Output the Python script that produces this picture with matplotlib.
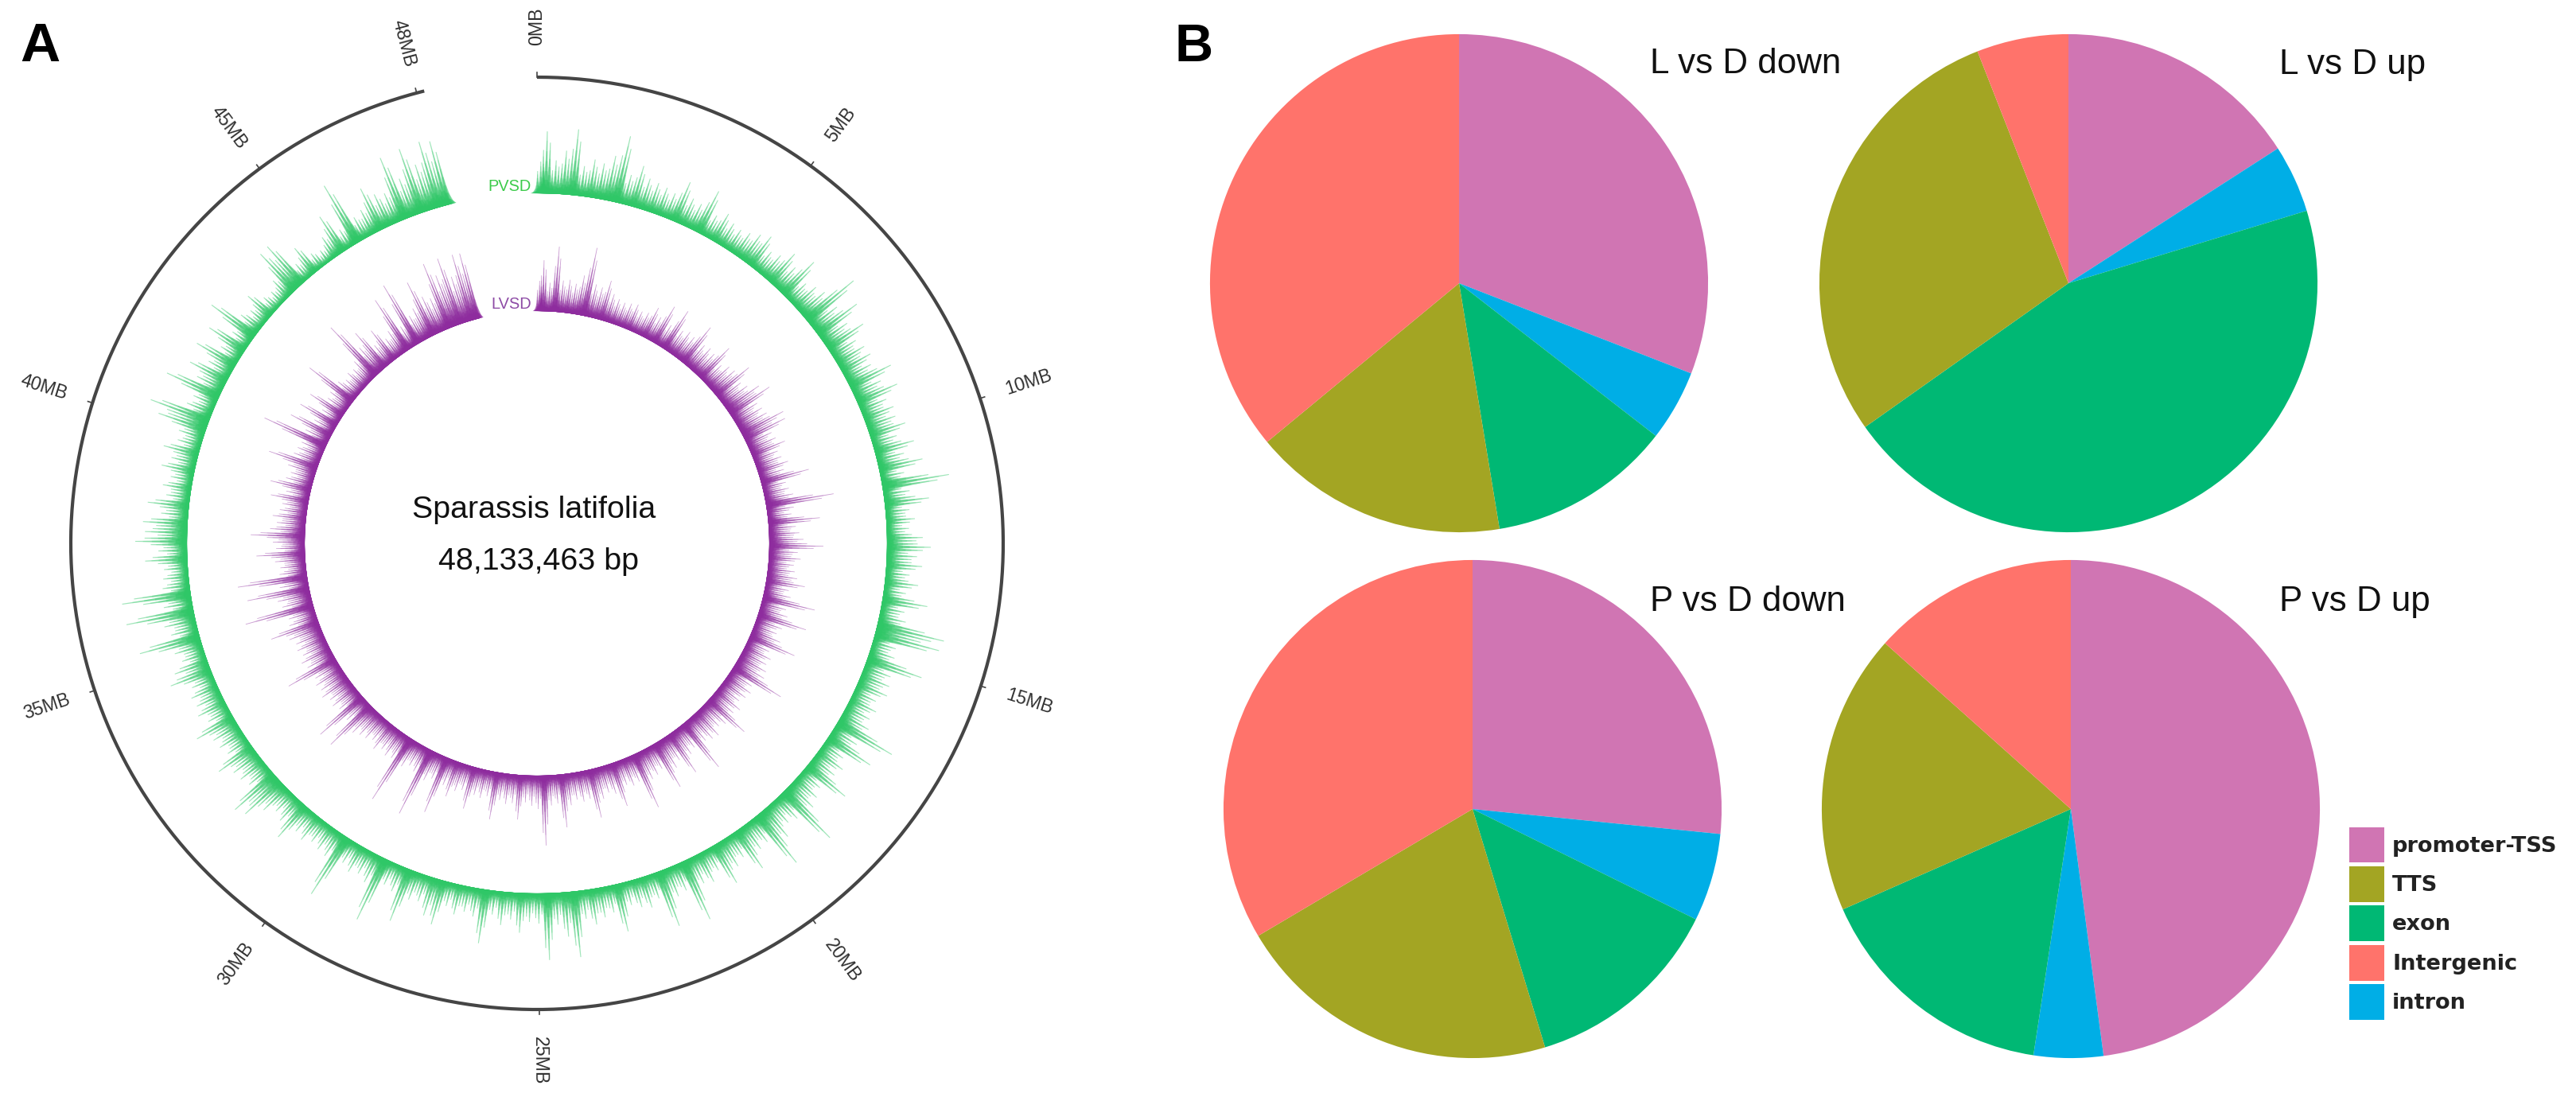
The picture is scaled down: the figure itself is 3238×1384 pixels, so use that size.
import numpy as np
import matplotlib
matplotlib.use("Agg")
import matplotlib.pyplot as plt
from matplotlib.collections import PolyCollection
from matplotlib.patches import Patch

plt.rcParams['font.family'] = ['Liberation Sans', 'DejaVu Sans']

W, H, DPI = 3238, 1384, 200

# ---- panel A data: peak height per 0.2 Mb window (in ring pixels)
GENOME_MB = 48.133
BIN_MB = 0.2
tick_mb = [0, 5, 10, 15, 20, 25, 30, 35, 40, 45, 48]
pvsd = [
 40,78,42,55,83,38,48,45,57,85, 38,53,40,38,36,33,53,36,34,58,
 30,39,32,30,33,39,45,30,34,47, 35,56,30,36,40,77,40,62,38,54,
 35,40,42,36,58,38,55,35,40,38, 47,32,51,35,56,30,85,33,56,30,
 36,28,45,55,38,45,30,42,28,57, 30,34,86,83,30,32,72,35,38,40,
 30,36,33,38,79,35,63,30,38,34, 61,30,35,40,82,36,32,45,77,34,
 36,57,32,38,55,30,40,36,80,35, 38,73,32,40,36,30,61,34,38,45,
 36,83,56,40,84,38,36,50,34,42, 30,68,36,32,38,30,57,49,34,36,
 69,34,30,84,38,32,36,30,84,35, 33,30,36,32,52,35,30,40,60,66,
 32,36,38,52,30,34,36,53,30,38, 34,36,30,54,44,30,36,78,34,40,
 86,36,87,34,32,30,53,36,65,53, 56,34,52,30,36,28,42,32,45,30,
 32,63,78,34,30,72,36,52,32,56, 28,53,26,67,30,24,38,22,20,28,
 63,64,24,40,22,18,30,53,26,83, 30,34,58,44,40,83,50,85,60,86,83]
lvsd = [
 38,64,36,82,40,42,38,50,87,42, 40,51,36,32,30,32,34,28,30,41,
 32,52,30,56,32,36,34,56,34,36, 34,52,30,36,38,54,34,38,50,60,
 36,38,40,59,57,34,36,45,32,34, 40,32,62,30,32,36,86,34,30,65,
 34,38,43,68,36,40,32,34,38,49, 30,34,67,32,36,63,34,30,38,61,
 30,36,34,38,40,70,32,36,34,30, 38,34,60,36,32,40,38,34,70,32,
 36,58,34,40,63,32,36,38,73,34, 36,32,57,38,34,40,62,36,38,34,
 40,67,36,38,88,42,38,34,56,36, 38,34,60,32,36,34,54,32,36,46,
 34,74,32,38,89,34,30,36,90,34, 36,32,38,30,34,36,40,70,34,71,
 32,36,34,40,36,38,34,68,36,40, 34,38,36,42,63,36,34,88,38,42,
 79,36,88,34,32,38,61,36,40,68, 44,36,42,34,32,48,30,52,34,30,
 36,64,34,32,30,85,32,57,28,53, 26,49,28,30,69,30,24,28,26,32,
 83,40,57,30,47,28,34,75,30,85, 36,42,74,50,44,87,68,87,60,86,85]

# ---- panel B data: percent share of each genomic feature
features = ['promoter-TSS', 'intron', 'exon', 'TTS', 'Intergenic']
l_down = [30.9, 4.6, 11.9, 16.6, 36.0]
l_up   = [15.9, 4.4, 44.9, 28.85, 5.95]
p_down = [26.6, 5.7, 13.0, 21.2, 33.5]
p_up   = [47.9, 4.5, 16.0, 18.2, 13.4]
titles = ['L vs D down', 'L vs D up', 'P vs D down', 'P vs D up']
legend_order = ['promoter-TSS', 'TTS', 'exon', 'Intergenic', 'intron']
feature_colors = {'promoter-TSS': '#D075B3', 'TTS': '#A3A523', 'exon': '#00B874',
                  'Intergenic': '#FF736B', 'intron': '#00AEE6'}

fig = plt.figure(figsize=(W / DPI, H / DPI), dpi=DPI, facecolor='white')

def box(cx, cy, rx, ry):
    return [(cx - rx) / W, 1 - (cy + ry) / H, 2 * rx / W, 2 * ry / H]

# ---- panel A
CX, CY, RMAX = 675, 683, 600
ax = fig.add_axes(box(CX, CY, RMAX, RMAX), projection='polar')
ax.set_theta_zero_location('N')
ax.set_theta_direction(-1)
ax.set_rlim(0, RMAX)
ax.axis('off')
SPAN = np.deg2rad(346.0)
mb2t = lambda mb: np.asarray(mb, float) / GENOME_MB * SPAN

def track(values, base, color):
    values = np.asarray(values, float)
    dt = float(mb2t(BIN_MB))
    t = np.clip(mb2t(np.arange(len(values)) * BIN_MB), dt * 0.4, SPAN - dt * 0.4)
    # each window is drawn as a comb of three hairs: offset within the window, share of its height
    comb = [(-1 / 3, 0.70), (0.0, 1.0), (1 / 3, 0.82)]
    # layers stacked from pale tip to dense root: share of height, half width in windows, opacity
    layers = [(1.0, 0.14, 0.45), (0.85, 0.18, 0.20), (0.68, 0.26, 0.22),
              (0.52, 0.36, 0.25), (0.36, 0.50, 0.30), (0.22, 0.65, 0.45), (0.10, 0.80, 0.7)]
    for frac, wid, alpha in layers:
        verts = []
        for a, v in zip(t, values):
            for off, share in comb:
                c = a + off * dt
                hw = wid * dt
                verts.append([(c - hw, base), (c - hw * 0.3, base + v * share * frac),
                              (c + hw * 0.3, base + v * share * frac), (c + hw, base)])
        pc = PolyCollection(verts, closed=True, facecolors=color, edgecolors='none',
                            alpha=alpha, transform=ax.transData)
        ax.add_collection(pc, autolim=False)

track(pvsd, 440, '#2FC767')
track(lvsd, 292, '#8E2C9E')

arc = np.linspace(0, SPAN, 800)
ax.plot(arc, np.full_like(arc, 586), color='#454545', lw=1.5, solid_capstyle='butt')
for mb in tick_mb:
    a = float(mb2t(mb))
    ax.plot([a, a], [586, 592], color='#454545', lw=0.6)
    deg = np.rad2deg(a)
    rot = 90 - deg if deg <= 180 else 270 - deg
    ax.text(a, 650, f'{mb}MB', rotation=rot, rotation_mode='anchor', ha='center', va='center',
            fontsize=8.4, color='#303030', clip_on=False)

def ftext(x, y, s, **kw):
    fig.text(x / W, 1 - y / H, s, **kw)

ftext(640, 235, 'PVSD', ha='center', va='center', fontsize=7.2, color='#3CCB4A')
ftext(643, 383, 'LVSD', ha='center', va='center', fontsize=7.2, color='#8E4CA6')
ftext(671, 641, 'Sparassis latifolia', ha='center', va='center', fontsize=14.2, color='#111111')
ftext(677, 706, '48,133,463 bp', ha='center', va='center', fontsize=14.2, color='#111111')
ftext(25, 77, 'A', ha='left', va='baseline', fontsize=25, fontweight='bold', color='black')
ftext(1476, 77, 'B', ha='left', va='baseline', fontsize=24, fontweight='bold', color='black')

# ---- panel B
pie_data = [l_down, l_up, p_down, p_up]
centers = [(1834, 356), (2600, 356), (1851, 1017), (2603, 1017)]
title_pos = [(2074, 81), (2865, 81), (2074, 757), (2865, 757)]
colors = [feature_colors[f] for f in features]
for vals, (cx, cy), title, (tx, ty) in zip(pie_data, centers, titles, title_pos):
    pa = fig.add_axes(box(cx, cy, 314, 314))
    pa.pie(vals, startangle=90, counterclock=False, colors=colors, radius=1.0,
           wedgeprops={'linewidth': 0})
    pa.set_xlim(-1.003, 1.003)
    pa.set_ylim(-1.003, 1.003)
    ftext(tx, ty, title, ha='left', va='center', fontsize=15.8, color='#111111')

handles = [Patch(facecolor=feature_colors[f], edgecolor='none', label=f) for f in legend_order]
fs = 9.8
em = fs * DPI / 72
fig.legend(handles=handles, loc='lower left', frameon=False,
           bbox_to_anchor=(2953 / W, 1 - 1282 / H), borderaxespad=0, borderpad=0,
           prop={'family': 'DejaVu Sans', 'weight': 'bold', 'size': fs},
           handlelength=44 / em, handleheight=2.16, handletextpad=10 / em,
           labelspacing=4.5 / em, labelcolor='#222222')

fig.savefig('out.png', dpi=DPI, facecolor='white')
